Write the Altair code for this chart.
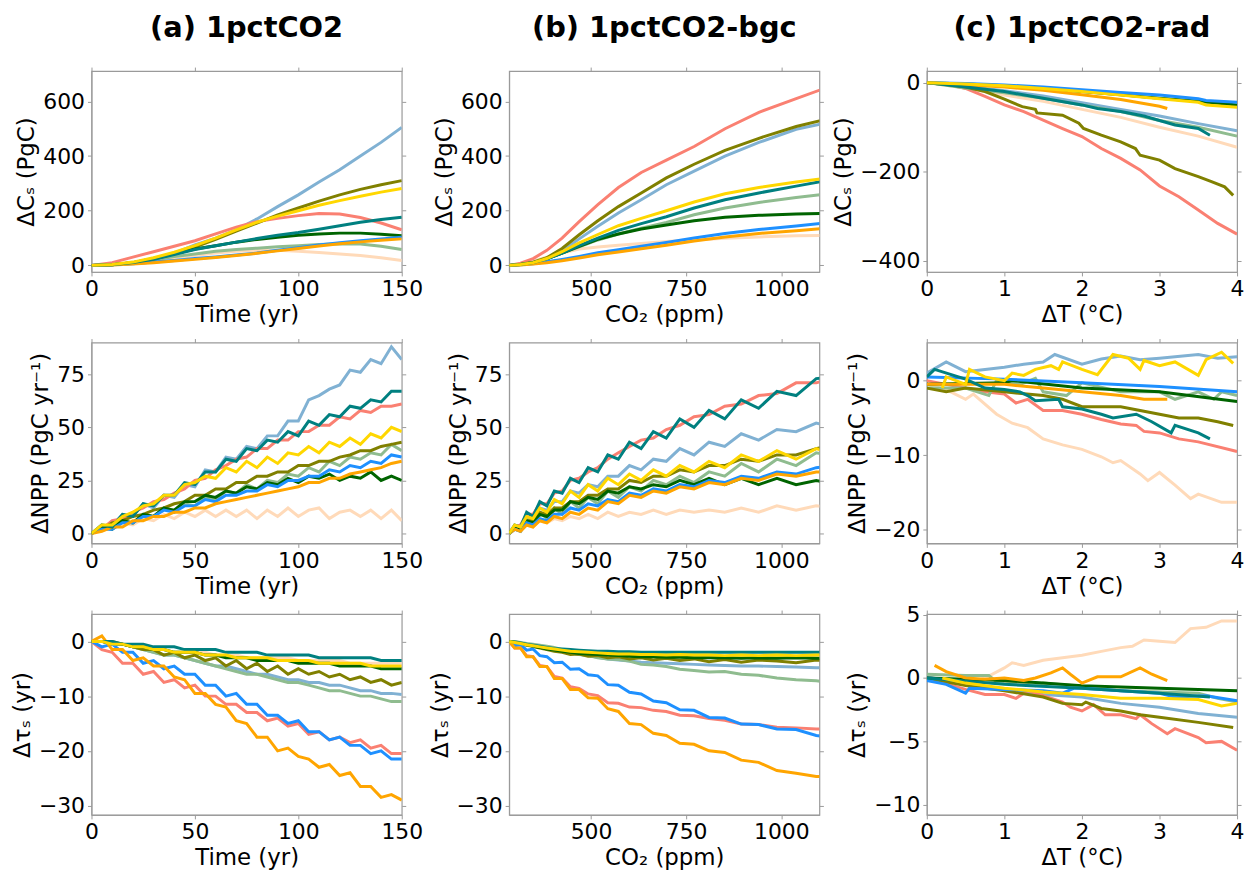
import altair as alt
import pandas as pd

# ---------------- series identity ----------------
SERIES = ["peachpuff", "lightblue", "salmon", "darkseagreen", "olive",
          "darkgreen", "dodgerblue", "orange", "teal", "gold"]
COLORS = ["#FFDAB9", "#80B1D3", "#FA8072", "#8FBC8F", "#808000",
          "#006400", "#1E90FF", "#FFA500", "#008080", "#FFD700"]

# ---------------- x grids ----------------
T10 = [0, 10, 20, 30, 40, 50, 60, 70, 80, 90, 100, 110, 120, 130, 140, 150]
CO2_10 = [285, 315, 348, 384, 424, 469, 518, 572, 632, 698, 771, 852, 941, 1039, 1148]
T5 = [0, 5, 10, 15, 20, 25, 30, 35, 40, 45, 50, 55, 60, 65, 70, 75, 80, 85, 90, 95,
      100, 105, 110, 115, 120, 125, 130, 135, 140, 145, 150]
CO2_5 = [285, 299.5, 314.8, 330.9, 347.7, 365.5, 384.1, 403.7, 424.3, 445.9, 468.6,
         492.5, 517.7, 544.1, 571.8, 601.0, 631.6, 663.8, 697.7, 733.3, 770.6, 810.0,
         851.3, 894.7, 940.3, 988.3, 1038.7, 1091.6, 1147.3]

# ---------------- (a) row 1: dCs vs time ----------------
A1 = {
    "salmon":       [0, 10, 30, 50, 70, 90, 115, 140, 160, 172, 182, 190, 188, 175, 155, 130],
    "lightblue":    [0, 3, 10, 25, 45, 75, 100, 130, 170, 215, 258, 305, 350, 400, 450, 505],
    "olive":        [0, 2, 10, 22, 42, 67, 95, 125, 155, 185, 210, 235, 258, 278, 295, 310],
    "gold":         [0, 3, 12, 28, 48, 72, 100, 130, 158, 180, 200, 220, 237, 253, 268, 281],
    "teal":         [0, 2, 10, 22, 40, 58, 72, 85, 98, 110, 120, 132, 145, 158, 168, 176],
    "darkgreen":    [0, 2, 10, 25, 42, 60, 72, 85, 95, 103, 110, 115, 118, 118, 114, 108],
    "dodgerblue":   [0, 2, 6, 12, 18, 25, 31, 38, 45, 55, 65, 75, 83, 90, 97, 103],
    "orange":       [0, 1, 5, 10, 16, 22, 29, 36, 44, 53, 62, 71, 79, 86, 92, 97],
    "darkseagreen": [0, 3, 10, 20, 32, 42, 52, 58, 63, 68, 72, 76, 79, 78, 70, 58],
    "peachpuff":    [0, 2, 8, 16, 26, 36, 45, 52, 55, 55, 52, 47, 42, 36, 28, 18],
}

# ---------------- (b) row 1: dCs vs CO2 ----------------
B1 = {
    "salmon":       [0, 8, 25, 55, 100, 160, 222, 285, 340, 385, 435, 500, 560, 610, 665],
    "olive":        [0, 4, 12, 28, 62, 112, 163, 215, 265, 320, 370, 421, 465, 508, 545],
    "lightblue":    [0, 3, 10, 24, 52, 97, 143, 192, 240, 295, 345, 400, 450, 498, 530],
    "gold":         [0, 3, 10, 25, 50, 82, 113, 145, 172, 200, 232, 262, 285, 305, 325],
    "teal":         [0, 3, 10, 24, 45, 72, 100, 128, 153, 178, 210, 240, 265, 290, 318],
    "darkseagreen": [0, 3, 10, 24, 45, 68, 93, 115, 136, 157, 185, 210, 230, 248, 266],
    "darkgreen":    [0, 3, 10, 24, 45, 70, 95, 115, 133, 148, 163, 176, 183, 188, 191],
    "dodgerblue":   [0, 2, 6, 13, 22, 33, 46, 57, 70, 84, 100, 117, 131, 144, 160],
    "orange":       [0, 1, 5, 10, 17, 27, 39, 49, 61, 74, 89, 104, 117, 127, 139],
    "peachpuff":    [0, 5, 15, 30, 45, 60, 67, 74, 80, 87, 93, 99, 104, 108, 111],
}

# ---------------- (c) row 1: dCs vs dT (own x per series) ----------------
C1_X = {
    "salmon":       [0, 0.25, 0.5, 0.75, 1.0, 1.25, 1.5, 1.75, 2.0, 2.25, 2.5, 2.75, 3.0, 3.25, 3.5, 3.75, 4.0],
    "olive":        [0, 0.25, 0.5, 0.75, 1.0, 1.23, 1.4, 1.42, 1.75, 1.96, 2.02, 2.25, 2.5, 2.69, 2.75, 3.0, 3.2, 3.5, 3.67, 3.84, 3.95],
    "lightblue":    [0, 0.5, 1, 1.5, 2, 2.5, 3, 3.5, 4],
    "darkseagreen": [0, 0.5, 1, 1.5, 2, 2.5, 3, 3.5, 4],
    "teal":         [0, 0.5, 1, 1.5, 2, 2.2, 2.5, 2.8, 3.0, 3.2, 3.5, 3.65],
    "peachpuff":    [0, 0.5, 1, 1.5, 2, 2.5, 3, 3.5, 4],
    "orange":       [0, 0.5, 1, 1.5, 2, 2.5, 3, 3.1],
    "dodgerblue":   [0, 0.5, 1, 1.5, 2, 2.5, 3, 3.5, 3.6, 4],
    "darkgreen":    [0, 0.5, 1, 1.5, 2, 2.5, 3, 3.5, 4],
    "gold":         [0, 0.5, 1, 1.5, 2, 2.5, 3, 3.5, 3.6, 4],
}
C1_Y = {
    "salmon":       [0, -3, -13, -31, -50, -65, -84, -103, -121, -148, -170, -196, -232, -256, -286, -316, -340],
    "olive":        [0, -4, -10, -20, -37, -54, -60, -68, -73, -91, -103, -118, -133, -148, -163, -174, -193, -211, -222, -234, -253],
    "lightblue":    [0, -8, -18, -30, -45, -60, -75, -92, -108],
    "darkseagreen": [0, -12, -23, -35, -50, -65, -85, -100, -120],
    "teal":         [0, -10, -20, -35, -50, -58, -65, -75, -85, -95, -103, -118],
    "peachpuff":    [0, -12, -28, -42, -60, -78, -100, -120, -145],
    "orange":       [0, -5, -10, -17, -27, -38, -53, -58],
    "dodgerblue":   [0, -2, -5, -10, -16, -22, -28, -36, -40, -44],
    "darkgreen":    [0, -3, -7, -13, -20, -27, -35, -42, -50],
    "gold":         [0, -3, -7, -13, -20, -28, -36, -44, -50, -55],
}

# ---------------- (a) row 2: dNPP vs time ----------------
A2 = {
    "lightblue":    [0, 3, 4, 9, 8, 14, 12, 18, 17, 23, 22, 30, 29, 36, 35, 41, 40, 46, 46, 53, 53, 63, 65, 68, 70, 77, 76, 82, 80, 88, 82],
    "teal":         [0, 4, 3, 9, 8, 14, 13, 18, 18, 24, 23, 29, 29, 35, 34, 40, 39, 44, 43, 48, 46, 53, 51, 56, 55, 60, 59, 63, 62, 67, 67],
    "salmon":       [0, 2, 6, 7, 10, 12, 15, 16, 19, 21, 25, 26, 30, 32, 35, 36, 40, 40, 44, 44, 48, 48, 51, 51, 55, 54, 58, 57, 60, 60, 61],
    "gold":         [0, 4, 4, 8, 10, 13, 14, 18, 18, 23, 24, 27, 26, 31, 29, 34, 31, 36, 33, 38, 37, 41, 38, 43, 41, 45, 42, 47, 45, 50, 48],
    "olive":        [0, 2, 5, 6, 8, 9, 11, 12, 14, 15, 18, 18, 21, 21, 24, 24, 27, 27, 29, 29, 32, 32, 34, 34, 36, 37, 39, 39, 41, 42, 43],
    "darkseagreen": [0, 3, 2, 6, 5, 9, 8, 12, 10, 14, 13, 17, 16, 20, 19, 23, 21, 25, 24, 28, 27, 31, 29, 34, 32, 36, 35, 38, 37, 42, 39],
    "dodgerblue":   [0, 2, 2, 5, 5, 8, 8, 11, 10, 13, 13, 16, 15, 18, 18, 20, 20, 23, 22, 25, 25, 27, 27, 30, 29, 32, 31, 34, 33, 37, 36],
    "orange":       [0, 1, 3, 3, 6, 6, 8, 8, 10, 10, 12, 12, 14, 15, 16, 17, 18, 19, 20, 21, 22, 24, 24, 26, 26, 28, 29, 30, 31, 33, 34],
    "darkgreen":    [0, 3, 2, 6, 5, 9, 8, 12, 11, 15, 15, 18, 17, 20, 19, 22, 21, 24, 23, 26, 24, 27, 26, 28, 25, 27, 26, 29, 25, 27, 25],
    "peachpuff":    [0, 3, 2, 5, 4, 7, 6, 9, 7, 10, 8, 11, 8, 11, 8, 11, 7, 11, 8, 12, 8, 11, 12, 7, 10, 11, 8, 11, 7, 11, 6],
}

# ---------------- (b) row 2: dNPP vs CO2 ----------------
B2 = {
    "salmon":       [0, 3, 4, 9, 9, 14, 14, 19, 20, 25, 26, 29, 31, 35, 38, 41, 44, 45, 49, 51, 55, 56, 60, 61, 65, 66, 71, 71, 74],
    "teal":         [0, 4, 3, 10, 8, 15, 13, 20, 19, 26, 24, 31, 29, 37, 35, 43, 40, 48, 45, 54, 50, 58, 54, 63, 59, 67, 65, 73, 74],
    "lightblue":    [0, 3, 3, 7, 7, 12, 11, 15, 15, 20, 19, 23, 22, 27, 27, 32, 30, 35, 34, 40, 37, 43, 41, 47, 44, 49, 48, 52, 50],
    "olive":        [0, 3, 2, 6, 6, 10, 9, 12, 12, 15, 15, 18, 18, 21, 21, 25, 24, 27, 27, 30, 29, 32, 32, 35, 34, 37, 37, 40, 42],
    "gold":         [0, 4, 3, 8, 7, 12, 10, 16, 14, 20, 17, 23, 20, 26, 23, 28, 25, 30, 27, 32, 29, 34, 31, 37, 34, 39, 35, 40, 37],
    "darkseagreen": [0, 2, 1, 6, 4, 10, 7, 12, 9, 15, 12, 17, 14, 20, 17, 22, 20, 25, 23, 27, 24, 29, 27, 33, 29, 35, 32, 38, 36],
    "dodgerblue":   [0, 2, 1, 5, 4, 7, 6, 9, 9, 12, 11, 14, 13, 16, 15, 19, 18, 21, 20, 23, 22, 25, 24, 27, 26, 29, 28, 31, 32],
    "orange":       [0, 2, 1, 4, 3, 6, 5, 8, 7, 10, 9, 12, 11, 15, 14, 18, 17, 20, 19, 22, 21, 24, 23, 26, 25, 28, 27, 29, 29],
    "darkgreen":    [0, 3, 2, 6, 5, 9, 8, 11, 11, 15, 14, 17, 16, 20, 19, 22, 21, 23, 22, 25, 23, 26, 23, 26, 23, 26, 23, 25, 23],
    "peachpuff":    [0, 2, 1, 4, 3, 6, 5, 7, 6, 8, 7, 9, 7, 10, 8, 10, 9, 11, 9, 11, 10, 11, 10, 12, 10, 13, 11, 13, 12],
}

# ---------------- (c) row 2: dNPP vs dT ----------------
C2_X = {
    "lightblue":    [0, 0.25, 0.5, 0.75, 1.0, 1.25, 1.5, 1.65, 2.0, 2.25, 2.5, 2.75, 3.0, 3.5, 3.75, 4.0],
    "gold":         [0.2, 0.25, 0.5, 0.55, 0.75, 1.0, 1.1, 1.25, 1.4, 1.6, 1.7, 1.75, 2.0, 2.2, 2.4, 2.6, 2.75, 2.8, 3.0, 3.2, 3.5, 3.6, 3.8, 3.95],
    "dodgerblue":   [0, 1, 2, 3, 4],
    "darkgreen":    [0, 1, 1.1, 2, 3, 4],
    "darkseagreen": [0, 0.5, 0.8, 0.9, 1.2, 1.4, 1.5, 1.8, 2.0, 2.5, 3.0, 3.2, 3.5, 3.7, 3.8, 4.0],
    "orange":       [0, 1, 1.5, 2, 2.5, 2.8, 3.1],
    "olive":        [0, 0.25, 0.5, 1.0, 1.5, 1.75, 2.0, 2.5, 2.75, 3.0, 3.25, 3.5, 3.75, 3.95],
    "teal":         [0, 0.1, 0.5, 0.75, 1.0, 1.2, 1.3, 1.4, 1.7, 1.75, 2.0, 2.25, 2.4, 2.7, 2.9, 3.15, 3.2, 3.5, 3.65],
    "salmon":       [0, 0.5, 0.75, 1.0, 1.15, 1.3, 1.5, 1.75, 2.0, 2.25, 2.5, 2.7, 2.8, 3.0, 3.25, 3.5, 4.0],
    "peachpuff":    [0, 0.25, 0.5, 0.6, 0.9, 1.1, 1.3, 1.5, 1.75, 2.0, 2.25, 2.4, 2.5, 2.75, 2.85, 3.0, 3.2, 3.4, 3.5, 3.8, 4.0],
}
C2_Y = {
    "lightblue":    [1, 2.5, 1.2, 1.5, 1.8, 2.2, 2.5, 3.5, 2.2, 2.9, 3.3, 2.8, 3.0, 3.5, 3.0, 3.2],
    "gold":         [-1, 0.5, -0.5, 1.5, 0.5, 0, 1, 0.7, 1.5, 2, 1.5, 2.5, 1.5, 0.8, 3.5, 3, 1.5, 2.7, 2, 2.5, 0.7, 2.8, 3.8, 2.3],
    "dodgerblue":   [0.5, 0.2, -0.3, -0.8, -1.5],
    "darkgreen":    [-0.5, -0.3, 0, -1, -1.5, -2.8],
    "darkseagreen": [-1, -1, -2, 0, -0.5, 0.3, -1.5, -2, -0.3, -1.5, -1.5, -2.5, -1.5, -2.5, -1.5, -2],
    "orange":       [-0.5, -0.5, -1, -1.5, -2, -2.5, -2.5],
    "olive":        [-1, -1.5, -1, -1.5, -2, -2.5, -3.5, -3.5, -4, -4.5, -5, -5, -5.5, -6],
    "teal":         [0.5, 1.5, 0.2, -1, -1.2, -1.5, -2, -2.7, -2.5, -3.5, -3.8, -4.5, -5, -4.5, -5.5, -7, -6, -7, -7.8],
    "salmon":       [0, -1, -1.5, -1.8, -3, -2.5, -4, -4, -4.5, -5.2, -5.8, -6, -6.8, -7, -7.8, -8.2, -9.5],
    "peachpuff":    [-0.5, -1.2, -2.5, -1.8, -4.5, -5.7, -6.3, -7.8, -8.6, -9.2, -10.2, -11, -10.7, -12.5, -13.4, -12.3, -14, -15.8, -15.2, -16.3, -16.3],
}

# ---------------- (a) row 3: dtau vs time ----------------
A3 = {
    "orange":       [0, 1, -1.5, -1.5, -3.5, -3, -4.5, -4.5, -6.5, -7, -9.5, -9.5, -11.5, -12, -14.5, -15, -17.5, -17.5, -20, -19.5, -21, -21.5, -23, -22.5, -24.5, -24, -26.5, -26.5, -28.5, -28, -29],
    "salmon":       [0, -1.5, -2, -4, -4, -6, -5.5, -7.5, -7, -8.5, -8, -10, -10, -11.5, -11.5, -13, -13, -14.5, -14, -15.5, -15, -17, -16.5, -18, -17.5, -18.5, -18, -19.5, -19, -20.5, -20.5],
    "dodgerblue":   [0, -1, -0.5, -2, -2, -4, -3.5, -5, -4.5, -6, -6, -8, -8, -10, -9.5, -11.5, -11.5, -13.5, -13.5, -15, -14.5, -16.5, -16.5, -18, -17.5, -19, -19, -20.5, -20, -21.5, -21.5],
    "darkseagreen": [0, 0, -0.5, -0.5, -1, -1.5, -2, -2.5, -2.5, -3, -3.5, -4, -4.5, -5, -5.5, -6, -6, -6.5, -7, -7.5, -7.5, -8, -8.5, -9, -9, -9.5, -10, -10, -10.5, -11, -11],
    "lightblue":    [0, 0, -0.5, -0.5, -1, -1.5, -2, -2.5, -2.5, -3, -3.5, -4, -4.5, -4.5, -5, -5.5, -6, -6, -6.5, -7, -7, -7.5, -7.5, -8, -8, -8.5, -9, -9, -9.5, -9.5, -9.7],
    "olive":        [0, 0, 0, -0.5, -1, -1.5, -1.5, -2.5, -2, -3, -2.5, -3.5, -3, -4.5, -3.5, -5, -4, -5.5, -4.5, -6, -5, -6, -5.5, -6.5, -6, -7, -6.5, -7.5, -7, -8, -7.5],
    "darkgreen":    [0, 0, -0.5, -0.5, -1, -1, -1.5, -1.5, -2, -2, -2, -2.5, -2.5, -3, -3, -3, -3.5, -3.5, -3.5, -3.5, -4, -4, -4, -4, -4.5, -4.5, -4.5, -4.5, -5, -5, -5],
    "gold":         [0, 0, -0.5, -0.5, -1, -1, -1.5, -1.5, -2, -2, -2, -2.5, -2.5, -2.5, -3, -3, -3, -3, -3.5, -3.5, -3.5, -3.5, -4, -4, -4, -4, -4, -4.5, -4.5, -4.5, -4.5],
    "peachpuff":    [0, 0, -0.5, -0.5, -1, -1, -1.5, -1.5, -2, -2, -2, -2, -2.5, -2.5, -2.5, -3, -3, -3, -3, -3, -3.5, -3.5, -3.5, -3.5, -3.5, -4, -4, -4, -4, -4, -4],
    "teal":         [0, 0, 0, -0.5, -0.5, -0.5, -1, -1, -1, -1.5, -1.5, -1.5, -1.5, -2, -2, -2, -2, -2.5, -2.5, -2.5, -2.5, -2.5, -3, -3, -3, -3, -3, -3, -3.5, -3.5, -3.5],
}

# ---------------- (b) row 3: dtau vs CO2 ----------------
B3 = {
    "orange":       [0, -1.2, -1.2, -2.8, -2.8, -4.6, -4.6, -6.8, -6.8, -8.8, -8.8, -10.3, -10.4, -12.3, -12.8, -15, -15.2, -16.8, -17.2, -18.6, -18.8, -20, -20.3, -21.7, -22.1, -23.6, -24.1, -24.7, -24.6],
    "salmon":       [0, -1.2, -1.2, -2.6, -2.8, -4.4, -4.6, -6.4, -6.7, -8.3, -8.6, -9.6, -9.9, -11.2, -11.3, -12, -12.1, -12.6, -12.8, -13.5, -13.6, -14.1, -14.4, -15.1, -15.2, -15.7, -15.8, -16, -16],
    "dodgerblue":   [0, -0.8, -0.6, -1.6, -1.4, -2.6, -2.8, -3.9, -3.8, -5.1, -5, -6.1, -6.3, -7.9, -8, -9.3, -9.6, -10.9, -11.2, -12.5, -12.6, -13.9, -14, -15.1, -15.2, -16, -16.1, -17.2, -17.6],
    "darkseagreen": [0, 0, -0.2, -0.4, -0.5, -0.7, -0.9, -1.1, -1.5, -2, -2.3, -2.6, -3, -3.2, -3.3, -3.6, -4.2, -4.3, -4.6, -5.1, -5.3, -5.6, -5.5, -6, -6.2, -6.7, -7, -7.2, -7.6],
    "lightblue":    [0, 0, -0.3, -0.5, -0.8, -1, -1.3, -1.6, -1.8, -2.1, -2.4, -2.6, -2.9, -3.2, -3.4, -3.6, -3.8, -3.9, -4, -4.1, -4.2, -4.3, -4.4, -4.5, -4.5, -4.6, -4.7, -4.8, -4.8],
    "olive":        [0, -0.2, -0.4, -0.7, -0.9, -1.2, -1.5, -1.8, -2, -2.4, -2.3, -2.7, -2.6, -3, -2.8, -3.2, -3, -3.4, -3.1, -3.5, -3.2, -3.7, -3.3, -3.8, -3.4, -3.6, -3.9, -3.4, -3.6],
    "darkgreen":    [0, -0.2, -0.4, -0.6, -0.9, -1.1, -1.4, -1.6, -1.8, -2, -2.2, -2.3, -2.4, -2.5, -2.6, -2.7, -2.8, -2.8, -2.9, -2.9, -3, -3, -3, -3.1, -3, -3.1, -3, -3.1, -3],
    "gold":         [0, -0.2, -0.4, -0.6, -0.8, -1, -1.2, -1.4, -1.6, -1.8, -1.9, -2, -2.1, -2.2, -2.3, -2.3, -2.4, -2.4, -2.5, -2.4, -2.5, -2.5, -2.6, -2.5, -2.6, -2.5, -2.6, -2.5, -2.5],
    "teal":         [0, -0.1, -0.3, -0.5, -0.7, -0.9, -1.1, -1.3, -1.4, -1.5, -1.6, -1.7, -1.8, -1.8, -1.9, -1.9, -2, -2, -2, -2, -2, -2, -2, -2, -2, -2, -2, -2, -2],
    "peachpuff":    [0, -0.2, -0.4, -0.6, -0.8, -1, -1.2, -1.4, -1.6, -1.8, -2, -2.1, -2.2, -2.3, -2.4, -2.5, -2.6, -2.7, -2.7, -2.8, -2.8, -2.9, -2.9, -3, -3, -3, -3, -3, -3],
}

# ---------------- (c) row 3: dtau vs dT ----------------
C3_X = {
    "peachpuff":    [0, 0.5, 0.75, 1.0, 1.1, 1.25, 1.5, 1.75, 2.0, 2.25, 2.5, 2.65, 2.8, 3.0, 3.2, 3.4, 3.6, 3.8, 4.0],
    "orange":       [0.1, 0.25, 0.5, 0.75, 1.0, 1.25, 1.4, 1.6, 1.75, 1.85, 2.0, 2.2, 2.5, 2.75, 2.9, 3.1],
    "darkgreen":    [0, 0.5, 1.0, 1.5, 2.0, 2.5, 3.0, 3.5, 4.0],
    "darkseagreen": [0, 0.5, 0.8, 0.9, 1.2, 1.4, 1.5, 1.9, 2.0, 2.5, 3.0, 3.5, 3.75, 4.0],
    "dodgerblue":   [0, 0.25, 0.5, 0.55, 1.0, 1.5, 1.75, 1.9, 2.0, 2.5, 3.0, 3.2, 3.6, 4.0],
    "gold":         [0.2, 0.5, 1.0, 1.5, 2.0, 2.5, 3.0, 3.5, 3.8, 4.0],
    "lightblue":    [0, 0.5, 1.0, 1.5, 2.0, 2.5, 3.0, 3.5, 4.0],
    "olive":        [0, 0.5, 1.0, 1.5, 1.75, 2.0, 2.05, 2.25, 2.5, 2.75, 3.0, 3.5, 3.95],
    "salmon":       [0, 0.5, 0.75, 1.0, 1.15, 1.3, 1.5, 1.75, 1.85, 2.0, 2.15, 2.3, 2.5, 2.7, 2.75, 2.9, 3.1, 3.2, 3.5, 3.6, 3.8, 4.0],
    "teal":         [0, 1.0, 2.0, 3.0, 3.65],
}
C3_Y = {
    "peachpuff":    [0, -0.5, 0, 0.8, 1.2, 1.0, 1.4, 1.6, 1.8, 2.1, 2.4, 2.5, 3.0, 2.9, 2.8, 3.9, 4.0, 4.5, 4.5],
    "orange":       [1.0, 0.5, 0, -0.1, 0, -0.2, 0, 0.4, 0.8, 0.3, -0.4, 0.1, 0.1, 0.8, 0.3, -0.2],
    "darkgreen":    [0, -0.1, -0.2, -0.4, -0.6, -0.7, -0.8, -0.9, -1.0],
    "darkseagreen": [0.3, 0.2, 0.2, -0.3, -0.4, -0.6, -0.4, -0.6, -0.7, -1.0, -1.1, -1.2, -1.6, -1.9],
    "dodgerblue":   [-0.2, -0.5, -1.2, -0.8, -0.9, -1.0, -1.2, -0.8, -0.8, -1.0, -1.2, -1.5, -1.4, -1.8],
    "gold":         [0, -0.4, -0.8, -1.1, -1.3, -1.6, -1.6, -1.7, -2.2, -2.0],
    "lightblue":    [0.1, -0.5, -0.9, -1.3, -1.5, -2.0, -2.3, -2.8, -3.1],
    "olive":        [0, -0.6, -1.0, -1.5, -2.0, -2.1, -1.9, -2.4, -2.6, -2.9, -3.1, -3.5, -3.9],
    "salmon":       [0, -0.9, -1.3, -1.3, -1.6, -1.0, -1.4, -1.9, -2.3, -2.6, -2.1, -2.9, -2.9, -3.2, -2.9, -3.6, -4.4, -4.0, -4.7, -5.1, -5.0, -5.7],
    "teal":         [0, -0.5, -0.8, -1.2, -1.5],
}

GRAY = "#9a9a9a"
W, H = 312, 202


def shared_frame(xs, table):
    rows = []
    for i, s in enumerate(SERIES):
        if s in table:
            for x, y in zip(xs, table[s]):
                rows.append({"series": s, "k": i, "x": x, "y": y})
    return pd.DataFrame(rows)


def own_frame(xt, yt):
    rows = []
    for i, s in enumerate(SERIES):
        if s in yt:
            for x, y in zip(xt[s], yt[s]):
                rows.append({"series": s, "k": i, "x": x, "y": y})
    return pd.DataFrame(rows)


def panel(df, xdom, ydom, xticks, yticks, xtitle, ytitle, title=None):
    xs = alt.Scale(domain=xdom, nice=False, zero=False)
    ys = alt.Scale(domain=ydom, nice=False, zero=False)
    base = alt.Chart(df)
    lines = base.mark_line(strokeWidth=3, clip=True).encode(
        x=alt.X("x:Q", scale=xs, axis=alt.Axis(values=xticks, title=xtitle, format="d")),
        y=alt.Y("y:Q", scale=ys, axis=alt.Axis(values=yticks, title=ytitle, format="d")),
        color=alt.Color("series:N", scale=alt.Scale(domain=SERIES, range=COLORS), legend=None),
    )
    ghost = base.mark_point(opacity=0, clip=True).encode(
        x=alt.X("x:Q", scale=xs, axis=alt.Axis(orient="top", values=xticks, labels=False,
                                               title=None, domain=False)),
        y=alt.Y("y:Q", scale=ys, axis=alt.Axis(orient="right", values=yticks, labels=False,
                                               title=None, domain=False)),
    )
    ch = alt.layer(lines, ghost).resolve_axis(x="independent", y="independent")
    props = {"width": W, "height": H}
    if title:
        props["title"] = alt.Title(title, fontSize=29, fontWeight="bold", font="DejaVu Sans",
                                   offset=24, anchor="middle", color="black")
    return ch.properties(**props)


TX = [0, 50, 100, 150]
CX = [500, 750, 1000]
DX = [0, 1, 2, 3, 4]
TD = [0, 150]
CD = [285, 1100]
DD = [0, 4]

panels = [
    panel(shared_frame(T10, A1), TD, [-24, 711], TX, [0, 200, 400, 600], "Time (yr)", "ΔCₛ (PgC)", "(a) 1pctCO2"),
    panel(shared_frame(CO2_10, B1), CD, [-24, 711], CX, [0, 200, 400, 600], "CO₂ (ppm)", "ΔCₛ (PgC)", "(b) 1pctCO2-bgc"),
    panel(own_frame(C1_X, C1_Y), DD, [-425, 26], DX, [-400, -200, 0], "ΔT (°C)", "ΔCₛ (PgC)", "(c) 1pctCO2-rad"),
    panel(shared_frame(T5, A2), TD, [-4.7, 90], TX, [0, 25, 50, 75], "Time (yr)", "ΔNPP (PgC yr⁻¹)"),
    panel(shared_frame(CO2_5, B2), CD, [-4.7, 90], CX, [0, 25, 50, 75], "CO₂ (ppm)", "ΔNPP (PgC yr⁻¹)"),
    panel(own_frame(C2_X, C2_Y), DD, [-21.8, 5.1], DX, [-20, -10, 0], "ΔT (°C)", "ΔNPP (PgC yr⁻¹)"),
    panel(shared_frame(T5, A3), TD, [-31.7, 5], TX, [-30, -20, -10, 0], "Time (yr)", "Δτₛ (yr)"),
    panel(shared_frame(CO2_5, B3), CD, [-31.7, 5], CX, [-30, -20, -10, 0], "CO₂ (ppm)", "Δτₛ (yr)"),
    panel(own_frame(C3_X, C3_Y), DD, [-10.8, 5.05], DX, [-10, -5, 0, 5], "ΔT (°C)", "Δτₛ (yr)"),
]

chart = alt.concat(*panels, columns=3, spacing={"row": 71, "column": 108}, bounds="flush").properties(
    padding={"left": 10, "top": 10, "right": 5, "bottom": 5},
    background="white",
).configure_axis(
    labelFont="DejaVu Sans", titleFont="DejaVu Sans", labelFontSize=22, titleFontSize=23,
    titleFontWeight="normal", labelColor="black", titleColor="black",
    domainColor=GRAY, tickColor=GRAY, tickSize=4, labelPadding=3, titlePadding=4, grid=False,
    labelFlush=False, labelOverlap=False,
).configure_view(stroke=GRAY, strokeWidth=1.2)

chart.save("out.html", embed_options={"renderer": "svg", "actions": False})
